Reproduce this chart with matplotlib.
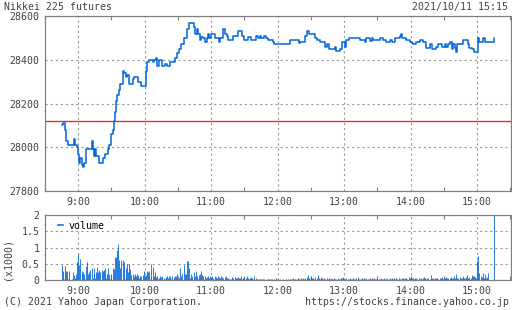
import matplotlib
matplotlib.use('Agg')
import matplotlib.pyplot as plt
from matplotlib.lines import Line2D

# ---- data ----
price_times = ['08:45', '08:46', '08:48', '08:49', '08:51', '08:56', '08:57', '08:59',
               '09:00', '09:01', '09:02', '09:03', '09:04', '09:05', '09:07', '09:12',
               '09:13', '09:14', '09:15', '09:16', '09:19', '09:22', '09:24', '09:27',
               '09:28', '09:30', '09:31', '09:32', '09:33', '09:34', '09:35', '09:37',
               '09:38', '09:40', '09:41', '09:43', '09:44', '09:46', '09:49', '09:50',
               '09:54', '09:57', '10:01', '10:02', '10:04', '10:07', '10:08', '10:10',
               '10:11', '10:13', '10:16', '10:18', '10:20', '10:23', '10:27', '10:29',
               '10:31', '10:33', '10:35', '10:38', '10:40', '10:44', '10:45', '10:47',
               '10:48', '10:50', '10:51', '10:53', '10:54', '10:56', '10:57', '10:58',
               '11:00', '11:03', '11:07', '11:08', '11:11', '11:12', '11:14', '11:15',
               '11:20', '11:24', '11:28', '11:30', '11:33', '11:36', '11:40', '11:42',
               '11:44', '11:45', '11:48', '11:49', '11:51', '11:56', '11:57', '12:11',
               '12:15', '12:19', '12:20', '12:25', '12:26', '12:28', '12:34', '12:35',
               '12:38', '12:43', '12:44', '12:46', '12:52', '12:53', '12:56', '12:58',
               '13:01', '13:02', '13:04', '13:14', '13:19', '13:20', '13:23', '13:25',
               '13:26', '13:32', '13:35', '13:38', '13:41', '13:43', '13:46', '13:50',
               '13:51', '13:52', '13:56', '13:59', '14:01', '14:02', '14:05', '14:08',
               '14:11', '14:14', '14:17', '14:19', '14:23', '14:25', '14:28', '14:31',
               '14:32', '14:34', '14:35', '14:37', '14:38', '14:40', '14:41', '14:42',
               '14:47', '14:52', '14:53', '14:55', '14:57', '15:01', '15:02', '15:05',
               '15:07', '15:15']
prices = [28100, 28110, 28080, 28030, 28010, 28040, 28010, 28000,
          27970, 27930, 27950, 27920, 27910, 27930, 27990, 28030,
          27990, 27960, 27990, 27960, 27930, 27950, 27970, 27990,
          28010, 28060, 28080, 28120, 28160, 28210, 28240, 28260,
          28290, 28350, 28340, 28320, 28330, 28290, 28310, 28320,
          28300, 28280, 28350, 28390, 28400, 28390, 28400, 28410,
          28370, 28400, 28370, 28380, 28370, 28390, 28410, 28430,
          28450, 28470, 28500, 28540, 28570, 28550, 28520, 28540,
          28520, 28490, 28505, 28500, 28480, 28500, 28520, 28500,
          28520, 28500, 28480, 28500, 28540, 28520, 28510, 28490,
          28510, 28530, 28510, 28490, 28505, 28490, 28510, 28500,
          28510, 28500, 28510, 28500, 28490, 28480, 28470, 28490,
          28490, 28475, 28480, 28510, 28530, 28520, 28500, 28490,
          28480, 28460, 28470, 28450, 28460, 28440, 28450, 28480,
          28460, 28490, 28500, 28490, 28480, 28500, 28485, 28500,
          28490, 28500, 28490, 28480, 28490, 28480, 28500, 28510,
          28520, 28500, 28490, 28480, 28475, 28470, 28480, 28490,
          28480, 28455, 28470, 28450, 28460, 28470, 28460, 28470,
          28460, 28470, 28480, 28450, 28470, 28455, 28435, 28470,
          28490, 28470, 28455, 28450, 28435, 28500, 28480, 28500,
          28480, 28500]
prev_close = 28120

# one bar per minute from 08:45 to 15:15, in thousands
vol_start = '08:45'
volume = [0.47, 0.29, 0.03, 0.44, 0.28, 0.27, 0.04, 0.27, 0.00, 0.03,
          0.24, 0.16, 0.08, 0.20, 0.55, 0.80, 0.48, 0.65, 0.27, 0.24,
          0.18, 0.04, 0.44, 0.57, 0.20, 0.24, 0.33, 0.39, 0.06, 0.39,
          0.08, 0.24, 0.41, 0.24, 0.31, 0.24, 0.33, 0.28, 0.33, 0.39,
          0.06, 0.18, 0.39, 0.18, 0.05, 0.20, 0.39, 0.34, 0.72, 0.72,
          0.93, 1.10, 0.63, 0.37, 0.63, 0.63, 0.57, 0.05, 0.39, 0.49,
          0.24, 0.49, 0.34, 0.16, 0.18, 0.12, 0.18, 0.12, 0.20, 0.16,
          0.08, 0.12, 0.12, 0.16, 0.27, 0.12, 0.16, 0.30, 0.26, 0.30,
          0.05, 0.50, 0.41, 0.12, 0.24, 0.10, 0.12, 0.05, 0.08, 0.12,
          0.10, 0.12, 0.08, 0.04, 0.10, 0.12, 0.08, 0.12, 0.12, 0.05,
          0.12, 0.10, 0.12, 0.12, 0.20, 0.04, 0.08, 0.38, 0.12, 0.20,
          0.47, 0.20, 0.20, 0.60, 0.60, 0.37, 0.06, 0.20, 0.12, 0.24,
          0.14, 0.27, 0.12, 0.05, 0.16, 0.20, 0.27, 0.16, 0.12,
          0.12, 0.06, 0.10, 0.14, 0.08, 0.12, 0.10, 0.14, 0.06, 0.12,
          0.10, 0.08, 0.12, 0.10, 0.06, 0.12, 0.10, 0.08, 0.10, 0.12,
          0.08, 0.06, 0.04, 0.05, 0.04, 0.10, 0.08, 0.10, 0.06, 0.08,
          0.10, 0.06, 0.08, 0.12, 0.04, 0.06, 0.10, 0.08, 0.12, 0.06,
          0.04, 0.06, 0.10, 0.08, 0.04, 0.12, 0.06, 0.05, 0.03, 0.04,
          0.04, 0.03, 0.05, 0.04, 0.03, 0.02, 0.04, 0.03, 0.05, 0.03,
          0.03, 0.04, 0.02, 0.03, 0.06, 0.05, 0.03, 0.02, 0.03, 0.02,
          0.02, 0.03, 0.02, 0.04, 0.02, 0.03, 0.02, 0.04, 0.05, 0.03,
          0.06, 0.03, 0.05, 0.04, 0.06, 0.03, 0.05, 0.08, 0.04, 0.06,
          0.05, 0.08, 0.10, 0.16, 0.06, 0.04, 0.12, 0.08, 0.06, 0.05,
          0.10, 0.06, 0.17, 0.08, 0.05, 0.10, 0.06, 0.04, 0.08, 0.05,
          0.06, 0.04, 0.08, 0.05, 0.06, 0.04, 0.05, 0.06, 0.04, 0.05,
          0.06, 0.04, 0.05, 0.08, 0.06, 0.10, 0.05, 0.04, 0.06, 0.05,
          0.04, 0.06, 0.05, 0.04, 0.08, 0.05, 0.04, 0.06, 0.10, 0.05,
          0.04, 0.05, 0.06, 0.04, 0.08, 0.05, 0.06, 0.04, 0.05, 0.06,
          0.04, 0.06, 0.05, 0.08, 0.04, 0.05, 0.06, 0.04, 0.05, 0.06,
          0.05, 0.04, 0.06, 0.05, 0.04, 0.08, 0.05, 0.06, 0.04, 0.06,
          0.05, 0.06, 0.04, 0.08, 0.05, 0.06, 0.04, 0.05, 0.06, 0.08,
          0.05, 0.06, 0.08, 0.05, 0.10, 0.06, 0.14, 0.08, 0.06, 0.05,
          0.06, 0.08, 0.05, 0.06, 0.04, 0.08, 0.05, 0.06, 0.10, 0.06,
          0.05, 0.08, 0.06, 0.05, 0.16, 0.06, 0.08, 0.05, 0.06, 0.08,
          0.06, 0.05, 0.08, 0.06, 0.10, 0.05, 0.08, 0.06, 0.10, 0.08,
          0.06, 0.08, 0.10, 0.06, 0.08, 0.12, 0.06, 0.20, 0.08, 0.06,
          0.10, 0.08, 0.06, 0.12, 0.08, 0.06, 0.10, 0.16, 0.08, 0.10,
          0.06, 0.16, 0.12, 0.14, 0.10, 0.08, 0.60, 0.74, 0.22, 0.12,
          0.10, 0.22, 0.08, 0.18, 0.06, 0.10, 0.22, 0.00, 0.00, 0.00,
          0.00, 2.00]

hour_ticks = ['9:00', '10:00', '11:00', '12:00', '13:00', '14:00', '15:00']
price_ticks = [27800, 28000, 28200, 28400, 28600]
vol_ticks = [0, 0.5, 1, 1.5, 2]
vol_tick_labels = ['0', '0.5', '1', '1.5', '2']


def to_min(s):
    h, m = s.split(':')
    return int(h) * 60 + int(m)


px = [to_min(t) for t in price_times]
vx = [to_min(vol_start) + i for i in range(len(volume))]
hour_x = [to_min(t) for t in hour_ticks]
half_x = [h - 30 for h in hour_x] + [hour_x[-1] + 30]

# ---- styling ----
blue = '#0066dd'
red = '#dd3333'
grid_c = '#999999'
spine_c = '#808080'
text_c = '#404040'
mono = 'DejaVu Sans Mono'
fs = 7.1

fig = plt.figure(figsize=(5.12, 3.10), dpi=100)
ax = fig.add_axes([45 / 512, 1 - 191 / 310, 465.5 / 512, 175 / 310])
ax2 = fig.add_axes([45 / 512, 1 - 280.3 / 310, 465.5 / 512, 65.3 / 310])

# price panel
ax.plot(px, prices, drawstyle='steps-post', color=blue, lw=1.1, zorder=3)
ax.axhline(prev_close, color=red, lw=1.0, zorder=2)
ax.set_ylim(27800, 28600)
ax.set_yticks(price_ticks)
ax.set_yticklabels([str(p) for p in price_ticks])

# volume panel: thin bars
ax2.vlines(vx, 0, volume, color=blue, lw=0.6, zorder=3)
ax2.set_ylim(0, 2)
ax2.set_yticks(vol_ticks)
ax2.set_yticklabels(vol_tick_labels)
ax2.legend([Line2D([0], [0], color=blue, lw=1.1)], ['volume'], loc='upper left',
           frameon=False, handlelength=0.5, handletextpad=0.6,
           borderaxespad=0.2, bbox_to_anchor=(0.015, 1.0),
           prop={'family': mono, 'size': fs}, labelcolor='black')
fig.text(7 / 512, 1 - 259 / 310, '(x1000)', rotation=90, ha='center', va='center',
         family=mono, fontsize=fs, color=text_c)

for a in (ax, ax2):
    a.set_xlim(to_min('08:30'), to_min('15:30'))
    a.set_xticks(hour_x)
    a.set_xticklabels(hour_ticks)
    a.set_xticks(half_x, minor=True)
    a.grid(True, which='major', color=grid_c, lw=0.8, linestyle=(0, (2, 2.6)))
    a.tick_params(which='major', length=0, pad=4, labelsize=fs, labelcolor=text_c)
    a.tick_params(axis='x', which='minor', length=3, direction='in',
                  top=True, bottom=True, color=spine_c, width=0.8)
    for lab in a.get_xticklabels() + a.get_yticklabels():
        lab.set_family(mono)
    for sp in a.spines.values():
        sp.set_color(spine_c)
        sp.set_linewidth(0.9)

# header / footer
fig.text(4 / 512, 1 - 7 / 310, 'Nikkei 225 futures', ha='left', va='center',
         family=mono, fontsize=fs, color=text_c)
fig.text(508 / 512, 1 - 7 / 310, '2021/10/11 15:15', ha='right', va='center',
         family=mono, fontsize=fs, color=text_c)
fig.text(4 / 512, 1 - 302 / 310, '(C) 2021 Yahoo Japan Corporation.', ha='left',
         va='center', family=mono, fontsize=fs, color=text_c)
fig.text(509 / 512, 1 - 302 / 310, 'https://stocks.finance.yahoo.co.jp', ha='right',
         va='center', family=mono, fontsize=fs, color=text_c)

fig.savefig('out.png', dpi=100)
